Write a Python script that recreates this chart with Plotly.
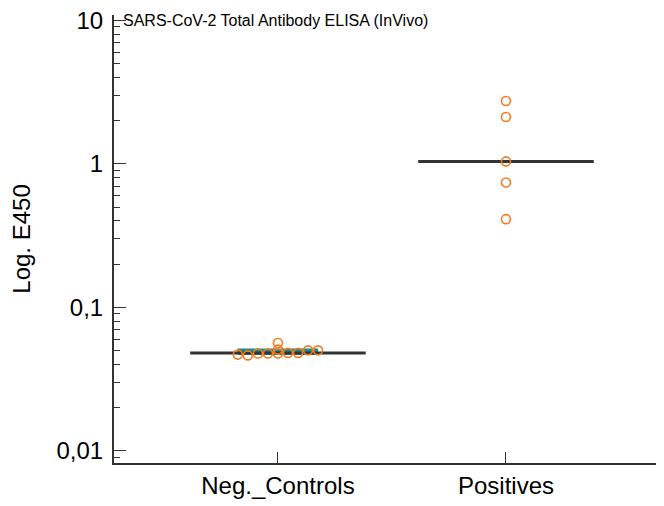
import numpy as np
import plotly.graph_objects as go

# E450 readings
groups = ["Neg._Controls", "Positives"]
neg_values = [0.0469, 0.0463, 0.0477, 0.0477, 0.0565, 0.0508, 0.0477, 0.0482, 0.0482, 0.0502, 0.0502]
neg_slots = [-4, -3, -2, -1, 0, 0, 0, 1, 2, 3, 4]   # swarm columns
pos_values = [2.74, 2.12, 1.04, 0.741, 0.412]
pos_slots = [0, 0, 0, 0, 0]

y_tickvals = [0.01, 0.1, 1, 10]
y_ticktext = ["0,01", "0,1", "1", "10"]
y_minor = [k * d for d in [0.001, 0.01, 0.1, 1] for k in range(2, 10)]

ORANGE = "#F47C20"
TEAL = "#1B8A8C"
DARK = "#333333"
FONT = "Liberation Sans, Arial, sans-serif"
SLOT_STEP = 0.044

fig = go.Figure()

# IQR band for the negative controls
q1, q3 = np.percentile(neg_values, [25, 75])
fig.add_trace(go.Bar(
    x=[0], y=[q3 - q1], base=[q1], width=0.34,
    marker=dict(color=TEAL, line=dict(color=TEAL, width=2.5)),
    showlegend=False, hoverinfo="skip",
))

# median lines
for i, vals in enumerate([neg_values, pos_values]):
    med = float(np.median(vals))
    fig.add_trace(go.Scatter(
        x=[i - 0.385, i + 0.385], y=[med, med], mode="lines",
        line=dict(color=DARK, width=3), showlegend=False, hoverinfo="skip",
    ))

# individual points
for i, (vals, slots) in enumerate([(neg_values, neg_slots), (pos_values, pos_slots)]):
    fig.add_trace(go.Scatter(
        x=[i + s * SLOT_STEP for s in slots], y=vals, mode="markers",
        marker=dict(symbol="circle-open", size=9, color=ORANGE, line=dict(width=1.6, color=ORANGE)),
        showlegend=False, name=groups[i],
    ))

fig.update_xaxes(
    range=[-0.719, 1.693], tickvals=[0, 1], ticktext=groups,
    ticks="inside", ticklen=11, tickwidth=1.2, tickcolor=DARK,
    showline=True, linecolor=DARK, linewidth=2, showgrid=False, zeroline=False,
    tickfont=dict(size=24, color="black", family=FONT), ticklabelstandoff=0,
    automargin=False,
)
fig.update_yaxes(
    type="log", range=[-2.084, 1.037],
    tickvals=y_tickvals, ticktext=y_ticktext,
    ticks="inside", ticklen=12, tickwidth=1.2, tickcolor=DARK,
    minor=dict(tickvals=y_minor, ticks="inside", ticklen=6, tickwidth=1, tickcolor=DARK, showgrid=False),
    showline=True, linecolor=DARK, linewidth=2, showgrid=False, zeroline=False,
    tickfont=dict(size=24, color="black", family=FONT), ticklabelstandoff=4,
    ticklabeloverflow="allow",
    title=dict(text="Log. E450", font=dict(size=24, color="black", family=FONT), standoff=20),
    automargin=False,
)

fig.add_annotation(
    text="SARS-CoV-2 Total Antibody ELISA (InVivo)",
    xref="paper", yref="paper", x=0.0, y=1.0,
    xanchor="left", yanchor="middle", xshift=7, yshift=-5,
    showarrow=False, font=dict(size=16, color="black", family=FONT),
)

# page body adds an 8px offset, so the figure is 8px smaller than the window
fig.update_layout(
    width=656, height=498,
    margin=dict(l=106, r=0, t=7, b=43),
    paper_bgcolor="white", plot_bgcolor="white",
    bargap=0,
)

fig.write_html("out.html")
